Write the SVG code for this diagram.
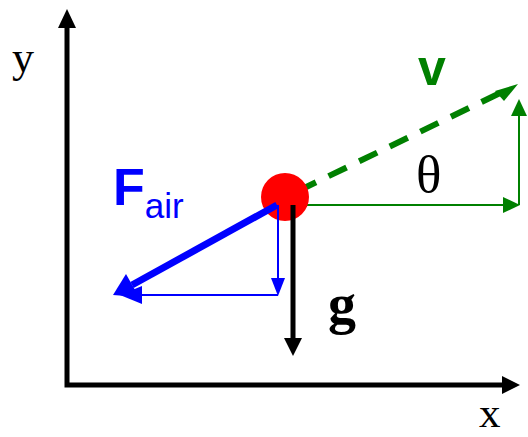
<svg xmlns="http://www.w3.org/2000/svg" width="528" height="437" viewBox="0 0 528 437">
<style>
.serif{font-family:"Liberation Serif","Times New Roman",serif}
.sans{font-family:"Liberation Sans",Arial,sans-serif}
</style>
<rect width="528" height="437" fill="#fff"/>
<g id="axes">
<polyline points="67,27 67,385 503,385" fill="none" stroke="#000" stroke-width="5"/>
<polygon points="67,9 58,28 76,28" fill="#000"/>
<polygon points="520,385 502,376 502,394" fill="#000"/>
<text class="serif" x="12" y="72" font-size="44">y</text>
<text class="serif" x="479" y="427" font-size="43">x</text>
</g>
<g id="velocity">
<line x1="293" y1="205" x2="504" y2="205" stroke="#008000" stroke-width="2"/>
<polygon points="520,205 503,197 503,213" fill="#008000"/>
<line x1="519" y1="205" x2="519" y2="116" stroke="#008000" stroke-width="2"/>
<polygon points="519,99 511,116 527,116" fill="#008000"/>
<line x1="298" y1="191" x2="500" y2="93" stroke="#008000" stroke-width="6" stroke-dasharray="20,14"/>
<polygon points="518,84 495,91 504,101" fill="#008000"/>
<text class="sans" x="418" y="85" font-size="50" font-weight="bold" fill="#008000">v</text>
<text class="serif" x="416" y="192" font-size="53">θ</text>
</g>
<g id="ball">
<circle cx="285" cy="197" r="24" fill="#ff0000"/>
</g>
<g id="gravity">
<line x1="293" y1="205" x2="293" y2="339" stroke="#000" stroke-width="5"/>
<polygon points="293,356 284,338 302,338" fill="#000"/>
<text class="serif" x="328" y="323" font-size="56" font-weight="bold">g</text>
</g>
<g id="drag">
<line x1="278" y1="205" x2="278" y2="280" stroke="#0000ff" stroke-width="2"/>
<polygon points="278,296 271,278 285,278" fill="#0000ff"/>
<line x1="278" y1="295" x2="140" y2="295" stroke="#0000ff" stroke-width="2"/>
<polygon points="120,295 142,286 142,304" fill="#0000ff"/>
<line x1="277" y1="205" x2="132" y2="285" stroke="#0000ff" stroke-width="7"/>
<polygon points="113,295 126,274 139,297" fill="#0000ff"/>
<text class="sans" x="113" y="205" font-size="52" font-weight="bold" fill="#0000ff">F<tspan font-size="35" font-weight="normal" dy="13">air</tspan></text>
</g>
</svg>
